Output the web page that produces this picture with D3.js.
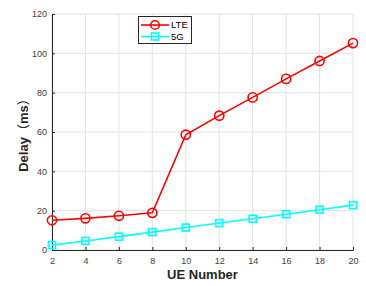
<!DOCTYPE html>
<html><head><meta charset="utf-8">
<script src="https://cdn.jsdelivr.net/npm/d3@7"></script>
<style>body{margin:0;background:#fff}svg{display:block}</style>
</head><body>
<script>
const ueNumbers = [2,4,6,8,10,12,14,16,18,20];
const lteDelay = [15.1,16.1,17.4,18.9,58.6,68.3,77.6,87.0,96.1,105.2];
const g5Delay = [2.5,4.6,6.8,9.1,11.4,13.7,15.9,18.2,20.5,22.8];
const xTicks = [2,4,6,8,10,12,14,16,18,20];
const yTicks = [0,20,40,60,80,100,120];
const seriesNames = ["LTE","5G"];

const W=366,H=286;
const m={l:52,r:13,t:14,b:36};
const svg=d3.select("body").append("svg").attr("width",W).attr("height",H);
const x=d3.scaleLinear().domain([2,20]).range([m.l,W-m.r]);
const y=d3.scaleLinear().domain([0,120]).range([H-m.b,m.t]);
const font="'Liberation Sans', Arial, sans-serif";
const cjk="'Noto Sans CJK SC', sans-serif";

// grid
svg.append("g").selectAll("line").data(xTicks).join("line")
  .attr("x1",d=>x(d)).attr("x2",d=>x(d)).attr("y1",y(0)).attr("y2",y(120))
  .attr("stroke","#e2e2e2").attr("stroke-width",1);
svg.append("g").selectAll("line").data(yTicks).join("line")
  .attr("x1",x(2)).attr("x2",x(20)).attr("y1",d=>y(d)).attr("y2",d=>y(d))
  .attr("stroke","#e2e2e2").attr("stroke-width",1);

// axes
const xAxis=svg.append("g").attr("transform",`translate(0,${y(0)})`)
  .call(d3.axisBottom(x).tickValues(xTicks).tickSizeInner(-3).tickSizeOuter(0).tickPadding(8));
const yAxis=svg.append("g").attr("transform",`translate(${x(2)},0)`)
  .call(d3.axisLeft(y).tickValues(yTicks).tickSizeInner(-3).tickSizeOuter(0).tickPadding(5));
[xAxis,yAxis].forEach(a=>{
  a.selectAll("path").attr("stroke","#262626").attr("stroke-width",1);
  a.selectAll("line").attr("stroke","#262626");
  a.selectAll("text").attr("fill","#404040").style("font-family",font).style("font-size","9px");
});

const red="#ff0000",cyan="#00ffff";
const line=d3.line().x((d,i)=>x(ueNumbers[i])).y(d=>y(d));
svg.append("path").datum(lteDelay).attr("d",line).attr("fill","none").attr("stroke",red).attr("stroke-width",1.6);
svg.append("path").datum(g5Delay).attr("d",line).attr("fill","none").attr("stroke",cyan).attr("stroke-width",1.6);
svg.append("g").selectAll("circle").data(lteDelay).join("circle")
  .attr("cx",(d,i)=>x(ueNumbers[i])).attr("cy",d=>y(d)).attr("r",4.6)
  .attr("fill","none").attr("stroke",red).attr("stroke-width",1.6);
svg.append("g").selectAll("rect").data(g5Delay).join("rect")
  .attr("x",(d,i)=>x(ueNumbers[i])-3.5).attr("y",d=>y(d)-3.5).attr("width",7).attr("height",7)
  .attr("fill","none").attr("stroke",cyan).attr("stroke-width",1.6);

// labels
svg.append("text").attr("x",(x(2)+x(20))/2).attr("y",279).attr("text-anchor","middle")
  .style("font-family",font).style("font-size","13px").style("font-weight","bold").attr("fill","#262626").text("UE Number");
const yl=svg.append("text").attr("transform",`translate(27.5,${(y(0)+y(120))/2}) rotate(-90)`).attr("text-anchor","middle")
  .style("font-family",font).style("font-size","13px").style("font-weight","bold").attr("fill","#262626");
yl.append("tspan").text("Delay");
yl.append("tspan").style("font-family",cjk).style("font-weight","normal").text("（");
yl.append("tspan").text("ms");
yl.append("tspan").style("font-family",cjk).style("font-weight","normal").text("）");

// legend
const lg=svg.append("g");
lg.append("rect").attr("x",138.5).attr("y",16.5).attr("width",53).attr("height",27)
  .attr("fill","#fff").attr("stroke","#262626").attr("stroke-width",1);
const rows=[{name:seriesNames[0],c:red,ty:25},{name:seriesNames[1],c:cyan,ty:36.5}];
rows.forEach((r,i)=>{
  lg.append("line").attr("x1",141).attr("x2",169).attr("y1",r.ty).attr("y2",r.ty).attr("stroke",r.c).attr("stroke-width",1.6);
  if(i===0) lg.append("circle").attr("cx",155).attr("cy",r.ty).attr("r",4.3).attr("fill","none").attr("stroke",r.c).attr("stroke-width",1.6);
  else lg.append("rect").attr("x",151.5).attr("y",r.ty-3.5).attr("width",7).attr("height",7).attr("fill","none").attr("stroke",r.c).attr("stroke-width",1.6);
  lg.append("text").attr("x",171).attr("y",r.ty+3.3).style("font-family",font).style("font-size","9.5px").attr("fill","#000").text(r.name);
});
</script>
</body></html>
